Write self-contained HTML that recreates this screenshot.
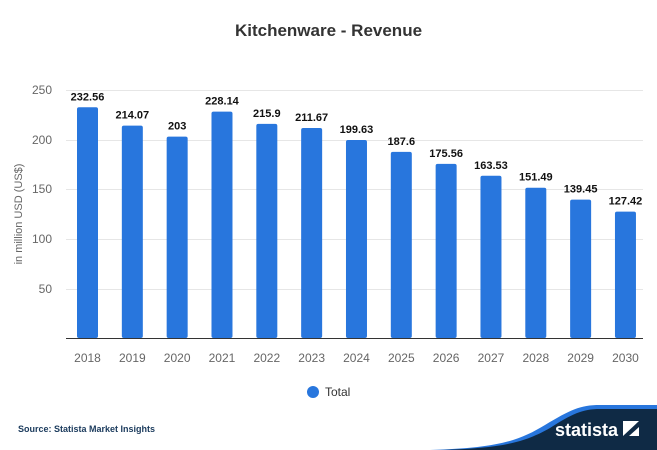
<!DOCTYPE html>
<html><head><meta charset="utf-8"><style>body{margin:0;background:#fff}svg{display:block}</style></head>
<body>
<svg width="657" height="450" viewBox="0 0 657 450" xmlns="http://www.w3.org/2000/svg" font-family="Liberation Sans, sans-serif">
<rect width="657" height="450" fill="#fff"/>
<text x="328.5" y="36" text-anchor="middle" font-size="17" font-weight="bold" fill="#333">Kitchenware - Revenue</text>
<g stroke="#e6e6e6" stroke-width="1">
<line x1="66" x2="643" y1="90.5" y2="90.5"/><line x1="66" x2="643" y1="140.5" y2="140.5"/>
<line x1="66" x2="643" y1="189.5" y2="189.5"/><line x1="66" x2="643" y1="239.5" y2="239.5"/>
<line x1="66" x2="643" y1="289.5" y2="289.5"/>
</g>
<line x1="66" x2="643" y1="338.5" y2="338.5" stroke="#333" stroke-width="1"/>
<g font-size="12" fill="#666" text-anchor="end">
<text x="52" y="94">250</text><text x="52" y="144">200</text><text x="52" y="193">150</text><text x="52" y="243">100</text><text x="52" y="293">50</text>
</g>
<text transform="translate(22,214) rotate(-90)" text-anchor="middle" font-size="11" fill="#666">in million USD (US$)</text>
<g id="bars"></g>
<g font-size="12" fill="#666" text-anchor="middle" id="xl"></g>
<g font-size="11" font-weight="bold" fill="#111" text-anchor="middle" id="vl"></g>
<circle cx="313" cy="392" r="6" fill="#2876dd"/>
<text x="325" y="396" font-size="12" fill="#333">Total</text>
<text x="18" y="432" font-size="9" font-weight="bold" fill="#1a3a5c">Source: Statista Market Insights</text>
<path d="M430,450 C500,448 520,440 545,425 C570,410 580,405 600,405 L657,405 L657,450 Z" fill="#2876dd"/>
<path d="M440,450 C505,448 525,442 550,428 C572,414 582,409 600,409 L657,409 L657,450 Z" fill="#0f2a45"/>
<text x="555" y="436" font-size="18" font-weight="bold" fill="#fff">statista</text>
<rect x="623" y="421" width="16" height="15" fill="#fff"/>
<path d="M623,436 L639,421 L639,427 L629,436 Z" fill="#0f2a45"/>
<script>
var d=[[2018,232.56],[2019,214.07],[2020,203],[2021,228.14],[2022,215.9],[2023,211.67],[2024,199.63],[2025,187.6],[2026,175.56],[2027,163.53],[2028,151.49],[2029,139.45],[2030,127.42]];
var b=document.getElementById('bars'),x=document.getElementById('xl'),v=document.getElementById('vl'),ns='http://www.w3.org/2000/svg';
d.forEach(function(e,i){var cx=87.5+i*44.83,h=e[1]*0.992,y=338-h;
var r=document.createElementNS(ns,'rect');r.setAttribute('x',cx-10.5);r.setAttribute('y',y);r.setAttribute('width',21);r.setAttribute('height',h);r.setAttribute('rx',2);r.setAttribute('fill','#2876dd');b.appendChild(r);
var t=document.createElementNS(ns,'text');t.setAttribute('x',cx);t.setAttribute('y',362);t.textContent=e[0];x.appendChild(t);
var s=document.createElementNS(ns,'text');s.setAttribute('x',cx);s.setAttribute('y',y-7);s.textContent=e[1];v.appendChild(s);});
</script>
</svg>
</body></html>
